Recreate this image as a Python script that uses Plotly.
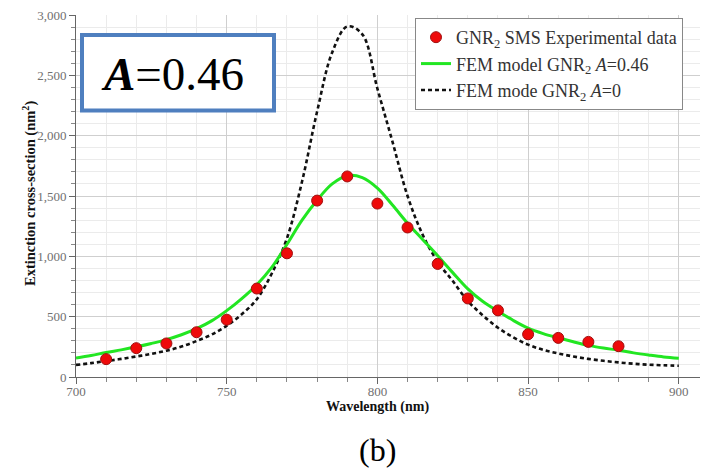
import plotly.graph_objects as go

# Experimental data (red dots)
exp_wl = [710, 720, 730, 740, 750, 760, 770, 780, 790, 800, 810, 820, 830, 840, 850, 860, 870, 880]
exp_val = [148, 239, 278, 371, 475, 733, 1025, 1462, 1662, 1437, 1239, 937, 651, 552, 354, 324, 291, 255]

# Model curves (read every 5 nm)
model_wl = [700, 705, 710, 715, 720, 725, 730, 735, 740, 745, 750, 755, 760, 765, 770, 775, 780, 785,
            790, 795, 800, 805, 810, 815, 820, 825, 830, 835, 840, 845, 850, 855, 860, 865, 870, 875,
            880, 885, 890, 895, 900]
fem_a046 = [158, 178, 203, 225, 250, 278, 310, 350, 400, 465, 550, 650, 765, 910, 1100, 1300, 1465, 1600,
            1668, 1652, 1565, 1425, 1275, 1140, 1005, 865, 730, 625, 545, 470, 405, 360, 325, 292, 262, 240,
            222, 200, 182, 166, 155]
fem_a0 = [100, 115, 132, 150, 170, 192, 218, 252, 298, 352, 425, 520, 645, 860, 1150, 1620, 2200, 2690,
          2905, 2840, 2390, 1950, 1500, 1180, 955, 795, 630, 510, 408, 330, 268, 225, 195, 170, 150, 134,
          121, 110, 102, 97, 93]

x_ticks = [700, 750, 800, 850, 900]
y_ticks = [0, 500, 1000, 1500, 2000, 2500, 3000]

SERIF = "Liberation Serif, Times New Roman, serif"

# page has an 8px body margin; figure is sized so the plot lands where the reference has it
OFF = 8
W, H = 708 - OFF, 476 - OFF
L, T, B = 76 - OFF, 13 - OFF, 99
PW, PH = W - L, H - T - B

def px(xp):
    return (xp - 76) / PW

def py(yp):
    return (377 - yp) / PH

fig = go.Figure()
fig.add_trace(go.Scatter(
    x=model_wl, y=fem_a0, mode="lines",
    line=dict(color="#111111", width=2.6, dash="4px,3px", shape="spline"),
    name="FEM mode GNR<sub>2</sub> <i>A</i>=0"))
fig.add_trace(go.Scatter(
    x=model_wl, y=fem_a046, mode="lines",
    line=dict(color="#22e622", width=3, shape="spline"),
    name="FEM model GNR<sub>2</sub> <i>A</i>=0.46"))
fig.add_trace(go.Scatter(
    x=exp_wl, y=exp_val, mode="markers",
    marker=dict(color="#ee0a0a", size=11, line=dict(color="#a01010", width=1)),
    name="GNR<sub>2</sub> SMS Experimental data"))

axis_common = dict(
    showline=True, linecolor="#666666", linewidth=1,
    ticks="outside", ticklen=6, tickcolor="#666666",
    tickfont=dict(family=SERIF, size=13, color="#707070"),
    showgrid=True, gridcolor="#cfcfcf", gridwidth=1,
    zeroline=False, ticklabeloverflow="allow",
)

fig.update_xaxes(
    range=[700, 700 + PW / 3.014], tickvals=x_ticks, ticktext=[str(v) for v in x_ticks],
    ticklabelstandoff=-4,
    minor=dict(dtick=10, tick0=700, showgrid=True, gridcolor="#ebebeb", ticks="outside",
               ticklen=4, tickcolor="#888888"),
    **axis_common)
fig.update_yaxes(
    range=[0, 3000], tickvals=y_ticks, ticktext=[f"{v:,}" for v in y_ticks],
    minor=dict(dtick=100, tick0=0, showgrid=True, gridcolor="#ebebeb", ticks="outside",
               ticklen=4, tickcolor="#888888"),
    **axis_common)

fig.update_layout(
    width=W, height=H,
    margin=dict(l=L, r=0, t=T, b=B),
    paper_bgcolor="white", plot_bgcolor="white",
    font=dict(family=SERIF, color="#222222"),
    legend=dict(
        x=px(415), y=py(16), xanchor="left", yanchor="top",
        bgcolor="white", bordercolor="#888888", borderwidth=1,
        font=dict(family=SERIF, size=18, color="#333333"),
        traceorder="reversed", itemwidth=30, tracegroupgap=0,
    ),
    shapes=[dict(type="rect", xref="paper", yref="paper",
                 x0=px(82), x1=px(274), y0=py(109), y1=py(33),
                 line=dict(color="#4f7fbf", width=4), fillcolor="white", layer="above")],
    annotations=[
        dict(text="<b><i>A</i></b>=0.46", xref="paper", yref="paper",
             x=px(172), y=py(72), xanchor="center", yanchor="middle",
             showarrow=False, font=dict(family=SERIF, size=47, color="black")),
        dict(text="<b>Wavelength (nm)</b>", xref="x", yref="paper", x=800,
             y=py(407), xanchor="center", yanchor="middle", showarrow=False,
             font=dict(family=SERIF, size=14, color="#111111")),
        dict(text="<b>Extinction cross-section (nm<sup>2</sup>)</b>", xref="paper", yref="paper",
             x=px(29), y=py(193), xanchor="center", yanchor="middle", textangle=-90,
             showarrow=False, font=dict(family=SERIF, size=14.5, color="#111111")),
        dict(text="(b)", xref="x", yref="paper", x=800,
             y=py(450), xanchor="center", yanchor="middle", showarrow=False,
             font=dict(family=SERIF, size=32, color="black")),
    ],
)

fig.write_html("out.html")
